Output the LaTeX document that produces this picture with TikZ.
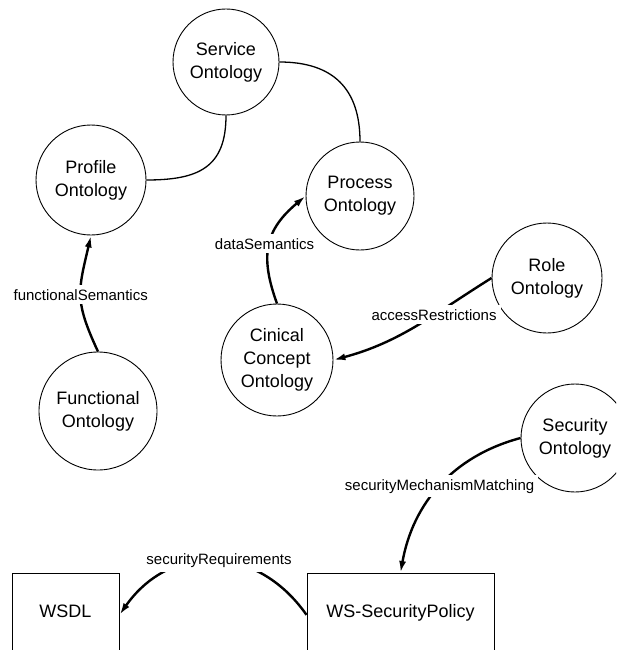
\documentclass[tikz,border=0pt]{standalone}
\usepackage{fontspec}
\setmainfont{Liberation Sans}
\usetikzlibrary{arrows.meta}

\begin{document}
\begin{tikzpicture}[x=1pt, y=1pt, >={Latex[length=12pt,width=7pt]},
  onto/.style={draw, circle, line width=0.9pt, align=center, inner sep=0pt,
    font=\fontsize{18}{23}\selectfont},
  spec/.style={draw, rectangle, line width=1pt, anchor=north, inner sep=0pt,
    text height=44pt, text depth=70pt, font=\fontsize{18}{23}\selectfont},
  rel/.style={->, line width=2.4pt},
  link/.style={line width=1.3pt},
  lbl/.style={fill=white, inner sep=4pt, font=\fontsize{15}{18}\selectfont}]
  \useasboundingbox (0,0) rectangle (616,-650);
  \clip (0,0) rectangle (616,-650);

  % Ontologies
  \node[onto, minimum size=106pt] (service) at (226,-62) {Service\\Ontology};
  \node[onto, minimum size=110pt] (profile) at (91,-180) {Profile\\Ontology};
  \node[onto, minimum size=108pt] (process) at (360,-196) {Process\\Ontology};
  \node[onto, minimum size=118pt] (functional) at (98,-411) {Functional\\Ontology};
  \node[onto, minimum size=112pt] (clinical) at (277,-360) {Cinical\\Concept\\Ontology};
  \node[onto, minimum size=110pt] (role) at (547,-278) {Role\\Ontology};
  \node[onto, minimum size=108pt] (security) at (575,-438) {Security\\Ontology};

  % Service descriptions
  \node[spec, minimum width=107pt] (wsdl) at (65.5,-573) {WSDL};
  \node[spec, minimum width=187pt] (wssp) at (400.5,-573) {WS-SecurityPolicy};

  % Parts of the service ontology
  \draw[link] (service.south) to[out=-90, in=0, looseness=1.3] (profile.east);
  \draw[link] (service.east) to[out=0, in=90, looseness=1.2] (process.north);

  % Semantic relations
  \draw[rel] (functional.north) to[out=115, in=-103, looseness=1.25]
    node[lbl] {functionalSemantics} (profile.south);
  \draw[rel] (clinical.north) to[out=110, in=-140, looseness=1.2]
    node[lbl, xshift=-5pt] {dataSemantics} (process.west);
  \draw[rel] (role.west) to[out=212, in=15]
    node[lbl, pos=0.37] {accessRestrictions} (clinical.east);
  \draw[rel] (security.west) to[out=195, in=80]
    node[lbl] {securityMechanismMatching} (wssp.north);
  \draw[rel] (wssp.mid west) to[out=125, in=55, looseness=1.2]
    node[lbl, xshift=6pt] {securityRequirements} (wsdl.mid east);
\end{tikzpicture}
\end{document}
